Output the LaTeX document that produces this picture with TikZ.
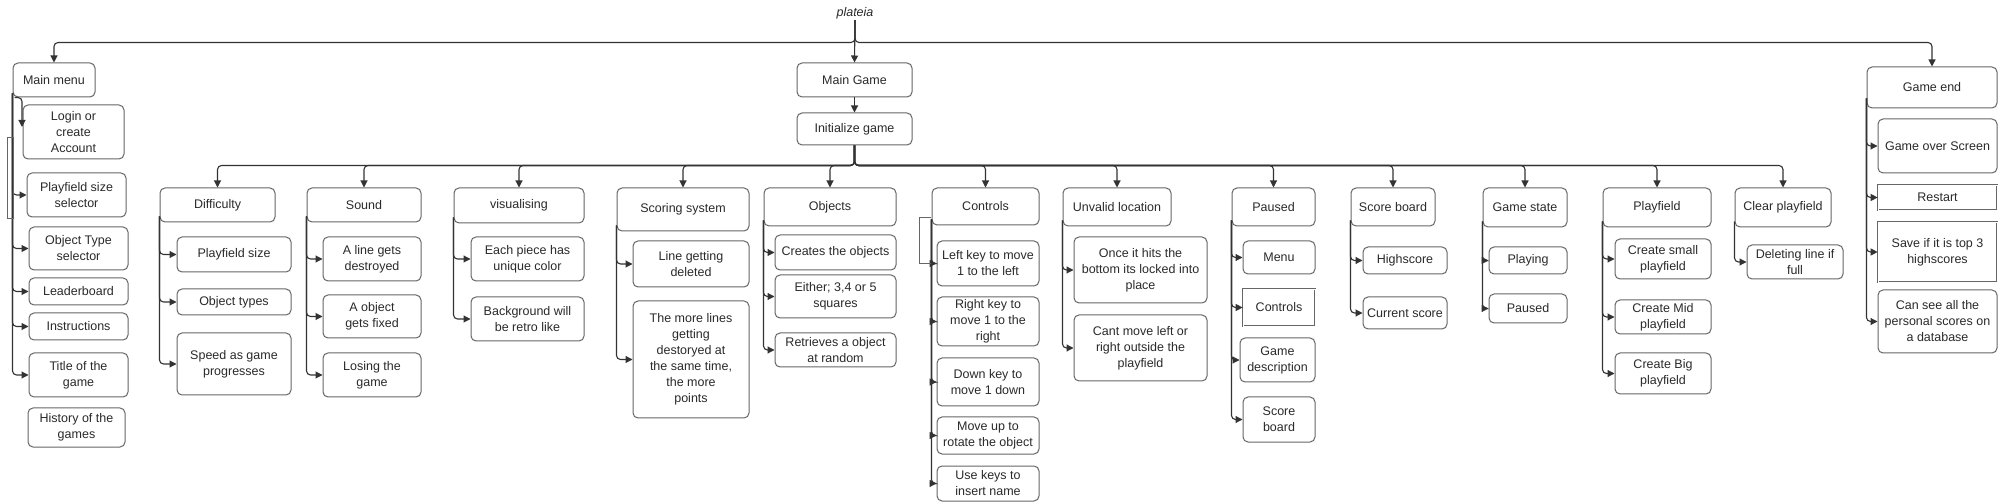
\documentclass[tikz,border=0pt]{standalone}
\usepackage{fontspec}
\setmainfont{Liberation Sans}
\usetikzlibrary{arrows.meta}
\definecolor{bord}{HTML}{666666}
\definecolor{txt}{HTML}{2A2A2A}
\definecolor{lnk}{HTML}{333333}
\tikzset{
  box/.style={draw=bord, line width=1pt, rounded corners=5pt, align=center, inner sep=1pt,
    text=txt, font=\fontsize{12.5}{16}\selectfont},
  sharpbox/.style={box, rounded corners=0pt, double, double distance=0.8pt, line width=0.7pt},
  arr/.style={draw=lnk, line width=1.1pt, rounded corners=4pt, -{Triangle[length=7pt,width=7pt]}},
  stray/.style={draw=bord, line width=0.7pt}
}
\newcommand{\mybox}[7][]{%
  \pgfmathsetmacro\bX{(#3+#5)/2}\pgfmathsetmacro\bY{(#4+#6)/2}%
  \pgfmathsetmacro\bW{#5-#3}\pgfmathsetmacro\bH{#6-#4}%
  \node[box,#1,minimum width=\bW pt,minimum height=\bH pt] (#2) at (\bX,\bY) {#7};}
\begin{document}
\begin{tikzpicture}[x=1pt,y=-1pt]
\useasboundingbox[fill=white] (0,0) rectangle (2000,502);
\node[text=txt, font=\itshape\fontsize{12.5}{15}\selectfont, inner sep=1pt] (plt) at (855,13) {plateia};
% Main menu
\mybox{mm}{13}{63}{95}{97}{Main menu}
\mybox{login}{23}{105}{124}{159}{Login or\\create\\Account}
\mybox{pss}{27}{173}{126}{217}{Playfield size\\selector}
\mybox{ots}{29}{227}{128}{270}{Object Type\\selector}
\mybox{lead}{29}{278}{128}{305}{Leaderboard}
\mybox{instr}{29}{313}{128}{340}{Instructions}
\mybox{title}{29}{353}{128}{397}{Title of the\\game}
\mybox{hist}{28}{408}{125}{447}{History of the\\games}
% Main game
\mybox{mg}{797}{63}{912}{97}{Main Game}
\mybox{init}{797}{113}{912}{145}{Initialize game}
\mybox{diff}{160}{188}{275}{222}{Difficulty}
\mybox{d1}{177}{237}{291}{272}{Playfield size}
\mybox{d2}{177}{289}{291}{315}{Object types}
\mybox{d3}{177}{333}{291}{395}{Speed as game\\progresses}
\mybox{snd}{307}{188}{421}{222}{Sound}
\mybox{s1}{323}{237}{421}{281}{A line gets\\destroyed}
\mybox{s2}{323}{295}{421}{338}{A object\\gets fixed}
\mybox{s3}{323}{353}{421}{397}{Losing the\\game}
\mybox{vis}{454}{188}{584}{223}{visualising}
\mybox{v1}{471}{237}{584}{281}{Each piece has\\unique color}
\mybox{v2}{471}{297}{584}{341}{Background will\\be retro like}
\mybox{scr}{617}{188}{749}{231}{Scoring system}
\mybox{sc1}{633}{241}{749}{287}{Line getting\\deleted}
\mybox{sc2}{633}{301}{749}{418}{The more lines\\getting\\destoryed at\\the same time,\\the more\\points}
\mybox{obj}{764}{188}{896}{226}{Objects}
\mybox{o1}{775}{235}{896}{270}{Creates the objects}
\mybox{o2}{775}{275}{896}{318}{Either; 3,4 or 5\\squares}
\mybox{o3}{775}{333}{896}{367}{Retrieves a object\\at random}
\mybox{ctl}{932}{188}{1039}{225}{Controls}
\mybox{c1}{937}{241}{1039}{286}{Left key to move\\1 to the left}
\mybox{c2}{937}{297}{1039}{346}{Right key to\\move 1 to the\\right}
\mybox{c3}{937}{358}{1039}{406}{Down key to\\move 1 down}
\mybox{c4}{937}{417}{1039}{454}{Move up to\\rotate the object}
\mybox{c5}{937}{466}{1039}{501}{Use keys to\\insert name}
\mybox{unv}{1063}{188}{1171}{226}{Unvalid location}
\mybox{u1}{1074}{237}{1207}{303}{Once it hits the\\bottom its locked into\\place}
\mybox{u2}{1074}{315}{1207}{381}{Cant move left or\\right outside the\\playfield}
\mybox{pau}{1232}{188}{1315}{226}{Paused}
\mybox{p1}{1243}{241}{1315}{274}{Menu}
\mybox[sharpbox]{p2}{1243}{289}{1315}{326}{Controls}
\mybox{p3}{1240}{338}{1315}{382}{Game\\description}
\mybox{p4}{1243}{397}{1315}{442}{Score\\board}
\mybox{sb}{1351}{188}{1435}{226}{Score board}
\mybox{sb1}{1363}{247}{1447}{274}{Highscore}
\mybox{sb2}{1363}{297}{1447}{329}{Current score}
\mybox{gs}{1483}{188}{1567}{227}{Game state}
\mybox{g1}{1489}{247}{1567}{274}{Playing}
\mybox{g2}{1489}{294}{1567}{323}{Paused}
\mybox{pf}{1603}{188}{1711}{227}{Playfield}
\mybox{pf1}{1615}{239}{1711}{279}{Create small\\playfield}
\mybox{pf2}{1615}{300}{1711}{334}{Create Mid\\playfield}
\mybox{pf3}{1615}{353}{1711}{394}{Create Big\\playfield}
\mybox{clr}{1735}{188}{1831}{227}{Clear playfield}
\mybox{cl1}{1747}{245}{1843}{279}{Deleting line if\\full}
% Game end
\mybox{ge}{1867}{67}{1997}{108}{Game end}
\mybox{ge1}{1878}{119}{1997}{173}{Game over Screen}
\mybox[sharpbox]{ge2}{1878}{185}{1997}{210}{Restart}
\mybox[sharpbox]{ge3}{1878}{222}{1997}{282}{Save if it is top 3\\highscores}
\mybox{ge4}{1878}{290}{1997}{353}{Can see all the\\personal scores on\\a database}
% top level connectors
\draw[arr] (plt.south) |- ([yshift=20pt]mm.north) -- (mm.north);
\draw[arr] (plt.south) -- (mg.north);
\draw[arr] (plt.south) |- ([yshift=24pt]ge.north) -- (ge.north);
\draw[arr] (mg) -- (init);
% bus
\foreach \c in {diff,snd,vis,scr,obj,ctl,unv,pau,sb,gs,pf,clr}
  \draw[arr] (init.south) |- ([yshift=22pt]\c.north) -- (\c.north);
% child trunks
\coordinate (lgin) at (22,127);
\draw[arr] ([xshift=2pt]mm.south west) -| (lgin);
\foreach \c in {pss,ots,lead,instr,title} \draw[arr] ([yshift=4pt]mm.south west) |- (\c.west);
\foreach \c in {d1,d2,d3} \draw[arr] ([yshift=6pt]diff.south west) |- (\c.west);
\foreach \c in {s1,s2,s3} \draw[arr] ([yshift=6pt]snd.south west) |- (\c.west);
\foreach \c in {v1,v2} \draw[arr] ([yshift=6pt]vis.south west) |- (\c.west);
\foreach \c in {sc1,sc2} \draw[arr] ([yshift=6pt]scr.south west) |- (\c.west);
\foreach \c in {o1,o2,o3} \draw[arr] ([yshift=6pt]obj.south west) |- (\c.west);
\foreach \c in {c1,c2,c3,c4,c5} \draw[arr] ([yshift=6pt]ctl.south west) |- (\c.west);
\foreach \c in {u1,u2} \draw[arr] ([yshift=6pt]unv.south west) |- (\c.west);
\foreach \c in {p1,p2,p3,p4} \draw[arr] ([yshift=6pt]pau.south west) |- (\c.west);
\foreach \c in {sb1,sb2} \draw[arr] ([yshift=6pt]sb.south west) |- (\c.west);
\foreach \c in {g1,g2} \draw[arr] ([yshift=6pt]gs.south west) |- (\c.west);
\foreach \c in {pf1,pf2,pf3} \draw[arr] ([yshift=6pt]pf.south west) |- (\c.west);
\foreach \c in {cl1} \draw[arr] ([yshift=6pt]clr.south west) |- (\c.west);
\foreach \c in {ge1,ge2,ge3,ge4} \draw[arr] ([yshift=10pt]ge.south west) |- (\c.west);
% stray shapes
\draw[stray] (7,137) rectangle (13,218);
\draw[stray] (931,217) -- (919,217) -- (919,263) -- (931,263);
\end{tikzpicture}
\end{document}
